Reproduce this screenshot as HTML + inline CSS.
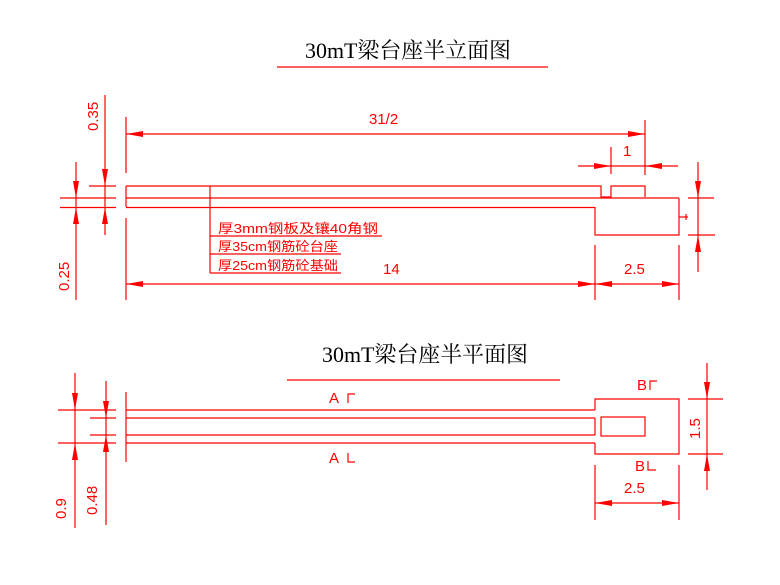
<!DOCTYPE html>
<html><head><meta charset="utf-8"><style>html,body{margin:0;padding:0;background:#fff}svg{display:block}</style></head>
<body>
<svg width="780" height="585" viewBox="0 0 780 585" xmlns="http://www.w3.org/2000/svg">
<g fill="#000" font-family="'Liberation Serif','Noto Serif CJK SC',serif" font-size="22">
<text x="305" y="58" textLength="206" lengthAdjust="spacingAndGlyphs">30mT梁台座半立面图</text>
<text x="322" y="362" textLength="206" lengthAdjust="spacingAndGlyphs">30mT梁台座半平面图</text>
</g>
<g stroke="#ff0000" stroke-width="1.2" fill="none">
<line x1="277" y1="67" x2="548" y2="67"/>
<line x1="287" y1="380" x2="560" y2="380"/>

<line x1="126" y1="117" x2="126" y2="173"/>
<line x1="126" y1="218" x2="126" y2="300"/>
<line x1="126" y1="134" x2="645" y2="134"/>
<line x1="645" y1="120" x2="645" y2="175"/>
<path d="M126 186 H601 V197 H611 V186 H645 V197"/>
<path d="M126 186 V207"/>
<line x1="126" y1="198" x2="679" y2="198"/>
<path d="M679 198 V235 H595 V207.5 H126"/>
<path d="M679 217 H688 M686 214 V220"/>
<line x1="578" y1="166" x2="678" y2="166"/>
<line x1="611" y1="147" x2="611" y2="174"/>
<line x1="698" y1="162" x2="698" y2="272"/>
<line x1="688" y1="198" x2="714" y2="198"/>
<line x1="688" y1="235" x2="715" y2="235"/>
<line x1="126" y1="284" x2="679" y2="284"/>
<line x1="595" y1="245" x2="595" y2="300"/>
<line x1="679" y1="245" x2="679" y2="300"/>
<line x1="105" y1="95" x2="105" y2="235"/>
<line x1="89" y1="186" x2="116" y2="186"/>
<line x1="60" y1="198" x2="116" y2="198"/>
<line x1="60" y1="207.5" x2="116" y2="207.5"/>
<line x1="76" y1="162" x2="76" y2="300"/>
<line x1="210" y1="186" x2="210" y2="273"/>
<line x1="210" y1="236" x2="382" y2="236"/>
<line x1="210" y1="254" x2="341" y2="254"/>
<line x1="210" y1="273" x2="341" y2="273"/>

<line x1="126" y1="392" x2="126" y2="462"/>
<line x1="126" y1="410" x2="595" y2="410"/>
<line x1="126" y1="418" x2="595" y2="418"/>
<line x1="126" y1="435" x2="595" y2="435"/>
<line x1="126" y1="443" x2="595" y2="443"/>
<path d="M595 410 V399 H679 V454 H595 V443"/>
<line x1="595" y1="418" x2="595" y2="435"/>
<rect x="601" y="417" width="44" height="19"/>
<line x1="58" y1="410" x2="116" y2="410"/>
<line x1="90" y1="418" x2="116" y2="418"/>
<line x1="90" y1="435" x2="116" y2="435"/>
<line x1="58" y1="443" x2="116" y2="443"/>
<line x1="75" y1="373" x2="75" y2="528"/>
<line x1="106" y1="381" x2="106" y2="525"/>
<line x1="707" y1="363" x2="707" y2="490"/>
<line x1="688" y1="399" x2="723" y2="399"/>
<line x1="688" y1="454" x2="723" y2="454"/>
<line x1="595" y1="503" x2="679" y2="503"/>
<line x1="595" y1="465" x2="595" y2="520"/>
<line x1="679" y1="465" x2="679" y2="520"/>
<path d="M348 403 V394 H355"/>
<path d="M348 453 V462 H355"/>
<path d="M650 390 V381 H657"/>
<path d="M648 461 V470 H656"/>
</g>

<g fill="#ff0000">
<polygon points="126,134 143,131 143,137"/>
<polygon points="645,134 628,131 628,137"/>
<polygon points="611,166 594,163 594,169"/>
<polygon points="645,166 662,163 662,169"/>
<polygon points="126,284 143,281 143,287"/>
<polygon points="595,284 578,281 578,287"/>
<polygon points="595,284 612,281 612,287"/>
<polygon points="679,284 662,281 662,287"/>
<polygon points="595,503 612,500 612,506"/>
<polygon points="679,503 662,500 662,506"/>
<polygon points="105,186 102,169 108,169"/>
<polygon points="105,207.5 102,224 108,224"/>
<polygon points="76,198 73,181 79,181"/>
<polygon points="76,207.5 73,224 79,224"/>
<polygon points="698,198 695,181 701,181"/>
<polygon points="698,235 695,252 701,252"/>
<polygon points="75,410 72,393 78,393"/>
<polygon points="75,443 72,460 78,460"/>
<polygon points="106,418 103,401 109,401"/>
<polygon points="106,435 103,452 109,452"/>
<polygon points="707,399 704,382 710,382"/>
<polygon points="707,454 704,471 710,471"/>
</g>

<g fill="#ff0000" font-family="'Liberation Sans',sans-serif" font-size="15">
<text x="369" y="124">31/2</text>
<text x="623" y="156">1</text>
<text x="383" y="274">14</text>
<text x="624" y="274">2.5</text>
<text x="624" y="493">2.5</text>
<text x="329" y="403">A</text>
<text x="329" y="463">A</text>
<text x="637" y="390">B</text>
<text x="635" y="471">B</text>
<text transform="translate(98,131) rotate(-90)">0.35</text>
<text transform="translate(69,291) rotate(-90)">0.25</text>
<text transform="translate(66,519) rotate(-90)">0.9</text>
<text transform="translate(97,515) rotate(-90)">0.48</text>
<text transform="translate(700,439) rotate(-90)">1.5</text>
</g>
<g fill="#ff0000" font-family="'Liberation Sans','Noto Sans CJK SC',sans-serif" font-size="13">
<text x="218" y="233" textLength="160" lengthAdjust="spacingAndGlyphs">厚3mm钢板及镶40角钢</text>
<text x="218" y="251" textLength="120" lengthAdjust="spacingAndGlyphs">厚35cm钢筋砼台座</text>
<text x="218" y="270" textLength="120" lengthAdjust="spacingAndGlyphs">厚25cm钢筋砼基础</text>
</g>
</svg>
</body></html>
